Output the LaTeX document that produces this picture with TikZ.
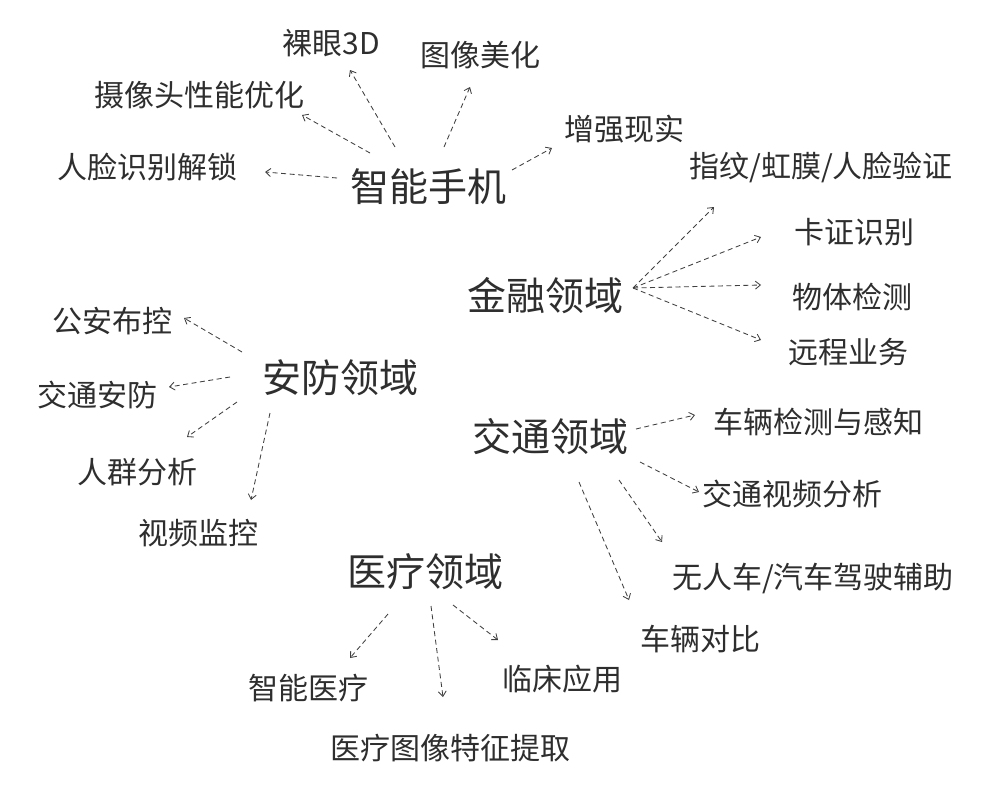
\documentclass[tikz,border=0pt]{standalone}
\usepackage{fontspec}
\setmainfont{Noto Sans CJK SC}
\usetikzlibrary{arrows.meta}
\definecolor{ink}{HTML}{2E2E2E}
\definecolor{lineink}{HTML}{404040}
\tikzset{
  hub/.style={inner sep=0pt, text=ink, font=\fontsize{39}{42}\selectfont},
  leaf/.style={inner sep=0pt, text=ink, font=\fontsize{30}{32}\selectfont},
  arr/.style={draw=lineink, line width=0.85pt, dash pattern=on 5pt off 3.5pt,
    -{Straight Barb[length=5pt,width=8pt,line width=0.85pt]}}
}
\begin{document}
\begin{tikzpicture}[x=1pt,y=-1pt]
\fill[white] (0,0) rectangle (984,798);
\useasboundingbox (0,0) rectangle (984,798);
% hubs
\node[hub] (phone) at (428,187) {智能手机};
\node[hub] (finance) at (545,296) {金融领域};
\node[hub] (anfang) at (340,378) {安防领域};
\node[hub] (traffic) at (550,437) {交通领域};
\node[hub] (medical) at (425,572) {医疗领域};
% phone leaves
\node[leaf] (luoyan) at (331,43) {裸眼3D};
\node[leaf] (tuxiang) at (480,55) {图像美化};
\node[leaf] (shexiang) at (199,95) {摄像头性能优化};
\node[leaf] (renlian) at (147,167) {人脸识别解锁};
\node[leaf] (zengqiang) at (624,129) {增强现实};
% finance leaves
\node[leaf] (zhiwen) at (821,167) {指纹/虹膜/人脸验证};
\node[leaf] (kazheng) at (854,232) {卡证识别};
\node[leaf] (wuti) at (852,297) {物体检测};
\node[leaf] (yuancheng) at (848,352) {远程业务};
% security leaves
\node[leaf] (gongan) at (112,321) {公安布控};
\node[leaf] (jtaf) at (97,395) {交通安防};
\node[leaf] (renqun) at (137,472) {人群分析};
\node[leaf] (shipin) at (198,533) {视频监控};
% traffic leaves
\node[leaf] (cljc) at (818,422) {车辆检测与感知};
\node[leaf] (jtsp) at (792,494) {交通视频分析};
\node[leaf] (wurenche) at (813,578) {无人车/汽车驾驶辅助};
\node[leaf] (cldb) at (700,639) {车辆对比};
% medical leaves
\node[leaf] (znyl) at (308,688) {智能医疗};
\node[leaf] (yltx) at (450,748) {医疗图像特征提取};
\node[leaf] (lcyy) at (562,679) {临床应用};
% phone arrows
\draw[arr] ([shift={(-91,-9)}]phone.center) -- ([shift={(118,5)}]renlian.center);
\draw[arr] ([shift={(-58,-34)}]phone.center) -- ([shift={(103,20)}]shexiang.center);
\draw[arr] ([shift={(-33,-40)}]phone.center) -- ([shift={(19,27)}]luoyan.center);
\draw[arr] ([shift={(16,-40)}]phone.center) -- ([shift={(-10,32)}]tuxiang.center);
\draw[arr] ([shift={(84,-17)}]phone.center) -- ([shift={(-72,19)}]zengqiang.center);
% finance arrows
\draw[arr] ([shift={(88,-8)}]finance.center) -- ([shift={(-107,40)}]zhiwen.center);
\draw[arr] ([shift={(88,-8)}]finance.center) -- ([shift={(-93,5)}]kazheng.center);
\draw[arr] ([shift={(88,-8)}]finance.center) -- ([shift={(-91,-12)}]wuti.center);
\draw[arr] ([shift={(88,-8)}]finance.center) -- ([shift={(-87,-12)}]yuancheng.center);
% security arrows
\draw[arr] ([shift={(-98,-26)}]anfang.center) -- ([shift={(72,-3)}]gongan.center);
\draw[arr] ([shift={(-110,-1)}]anfang.center) -- ([shift={(72,-8)}]jtaf.center);
\draw[arr] ([shift={(-103,24)}]anfang.center) -- ([shift={(50,-35)}]renqun.center);
\draw[arr] ([shift={(-70,35)}]anfang.center) -- ([shift={(53,-33)}]shipin.center);
% traffic arrows
\draw[arr] ([shift={(86,-8)}]traffic.center) -- ([shift={(-123,-7)}]cljc.center);
\draw[arr] ([shift={(90,25)}]traffic.center) -- ([shift={(-93,-2)}]jtsp.center);
\draw[arr] ([shift={(69,43)}]traffic.center) -- ([shift={(-151,-36)}]wurenche.center);
\draw[arr] ([shift={(29,45)}]traffic.center) -- ([shift={(-71,-39)}]cldb.center);
% medical arrows
\draw[arr] ([shift={(-37,42)}]medical.center) -- ([shift={(42,-30)}]znyl.center);
\draw[arr] ([shift={(6,34)}]medical.center) -- ([shift={(-7,-51)}]yltx.center);
\draw[arr] ([shift={(28,33)}]medical.center) -- ([shift={(-64,-39)}]lcyy.center);
\end{tikzpicture}
\end{document}
